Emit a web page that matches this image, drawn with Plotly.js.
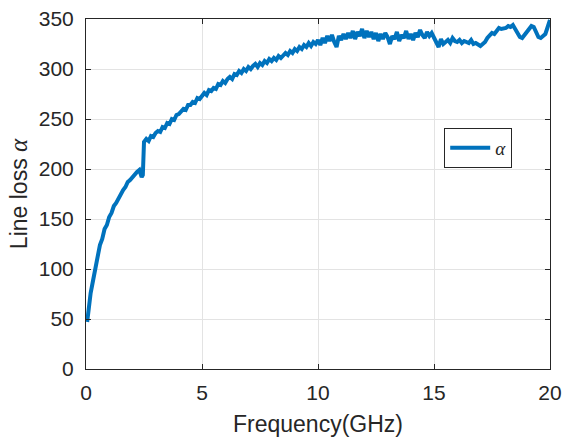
<!DOCTYPE html>
<html>
<head>
<meta charset="utf-8">
<script src="https://cdn.plot.ly/plotly-3.0.1.min.js"></script>
<style>html,body{margin:0;padding:0;background:#fff;}#chart{width:566px;height:441px;}</style>
</head>
<body>
<div id="chart"></div>
<script>
const freq = [0.05,0.1,0.15,0.2,0.3,0.4,0.5,0.6,0.7,0.8,0.9,1.0,1.1,1.2,1.3,1.4,1.5,1.6,1.7,1.8,1.9,2.0,2.1,2.2,2.3,2.35,2.4,2.45,2.47,2.5,2.6,2.7,2.8,2.9,3.0,
3.1,3.2,3.3,3.4,3.5,3.6,3.7,3.8,3.9,4.0,4.1,4.2,4.3,4.4,4.5,4.6,4.7,4.8,4.9,5.0,
5.1,5.2,5.3,5.4,5.5,5.6,5.7,5.8,5.9,6.0,6.1,6.2,6.3,6.4,6.5,6.6,6.7,6.8,6.9,7.0,
7.1,7.2,7.3,7.4,7.5,7.6,7.7,7.8,7.9,8.0,8.1,8.2,8.3,8.4,8.5,8.6,8.7,8.8,8.9,9.0,
9.1,9.2,9.3,9.4,9.5,9.6,9.7,9.8,9.9,10.0,
10.1,10.2,10.3,10.4,10.5,10.6,10.7,10.8,10.9,11.0,11.1,11.2,11.3,11.4,11.5,11.6,11.7,11.8,11.9,12.0,
12.1,12.2,12.3,12.4,12.5,12.6,12.7,12.8,12.9,13.0,13.1,13.2,13.3,13.4,13.5,13.6,13.7,13.8,13.9,14.0,
14.1,14.2,14.3,14.4,14.5,14.6,14.7,14.8,14.9,15.0,15.1,15.2,15.3,15.4,15.5,15.6,15.7,15.8,15.9,16.0,
16.1,16.2,16.3,16.4,16.5,16.6,16.7,16.8,16.9,17.0,17.1,17.2,17.3,17.4,17.5,17.6,17.7,17.8,17.9,18.0,
18.1,18.2,18.3,18.4,18.5,18.6,18.7,18.8,18.9,19.0,19.1,19.2,19.3,19.4,19.5,19.6,19.7,19.8,19.9,20.0];
const lineLoss = [47,58,66,76,88,101,110,124,130,140,144,152,156,163,166,171,174,179,182,187,189,192,194,197,199,196,192,194,224,227,230,228,233,232,236,
238,237,242,241,246,245,250,249,254,255,257,260,259,264,264,267,266,271,270,273,
276,274,279,278,281,280,285,284,288,286,290,292,290,295,294,298,296,300,298,302,
300,303,305,302,306,304,308,306,310,308,311,309,313,311,314,316,314,318,316,320,
318,322,320,324,322,326,323,327,325,329,
324,331,326,333,328,334,327,322,333,329,335,330,336,331,338,330,337,333,340,331,
338,332,337,330,336,328,335,330,336,332,325,333,330,337,328,334,331,338,330,335,
329,336,332,339,334,331,337,333,336,331,326,322,330,325,327,329,326,331,328,327,
329,326,328,327,326,329,325,326,324,323,325,327,331,333,336,335,338,341,340,340,
341,343,342,344,340,335,332,331,334,337,340,343,342,336,332,331,333,335,342,349];

const xTicks = [0,5,10,15,20];
const yTicks = [0,50,100,150,200,250,300,350];
const seriesName = '<i>α</i>';

const axisColor = '#262626';
const trace = {
  x: freq, y: lineLoss, type: 'scatter', mode: 'lines', name: seriesName,
  line: {color: '#0072BD', width: 4}
};
const layout = {
  width: 566, height: 441,
  margin: {l: 86, r: 16, t: 19, b: 72},
  paper_bgcolor: '#ffffff', plot_bgcolor: '#ffffff',
  font: {family: 'Liberation Sans, Arial, sans-serif', color: axisColor, size: 21},
  showlegend: true,
  legend: {
    x: 0.772, y: 0.689, xanchor: 'left', yanchor: 'top',
    bgcolor: '#ffffff', bordercolor: axisColor, borderwidth: 1,
    font: {family: 'Liberation Serif, Times New Roman, serif', size: 19, color: axisColor},
    itemwidth: 40, tracegroupgap: 0
  },
  xaxis: {
    range: [0, 20], tickvals: xTicks, ticktext: xTicks.map(String),
    showgrid: true, gridcolor: '#e3e3e3', gridwidth: 1,
    showline: true, linecolor: axisColor, linewidth: 1, mirror: 'ticks',
    ticks: 'inside', ticklen: 5, tickcolor: axisColor,
    zeroline: false, ticklabelstandoff: 5,
    tickfont: {size: 21},
    title: {text: 'Frequency(GHz)', font: {size: 23}, standoff: 12}
  },
  yaxis: {
    range: [0, 350], tickvals: yTicks, ticktext: yTicks.map(String),
    showgrid: true, gridcolor: '#e3e3e3', gridwidth: 1,
    showline: true, linecolor: axisColor, linewidth: 1, mirror: 'ticks',
    ticks: 'inside', ticklen: 5, tickcolor: axisColor,
    zeroline: false, ticklabelstandoff: 7,
    tickfont: {size: 21},
    title: {text: "Line loss <span style='font-family:Liberation Serif;font-style:italic;font-size:25px'>α</span>", font: {size: 23}, standoff: 4}
  }
};
Plotly.newPlot('chart', [trace], layout, {displayModeBar: false, staticPlot: true});
</script>
</body>
</html>
